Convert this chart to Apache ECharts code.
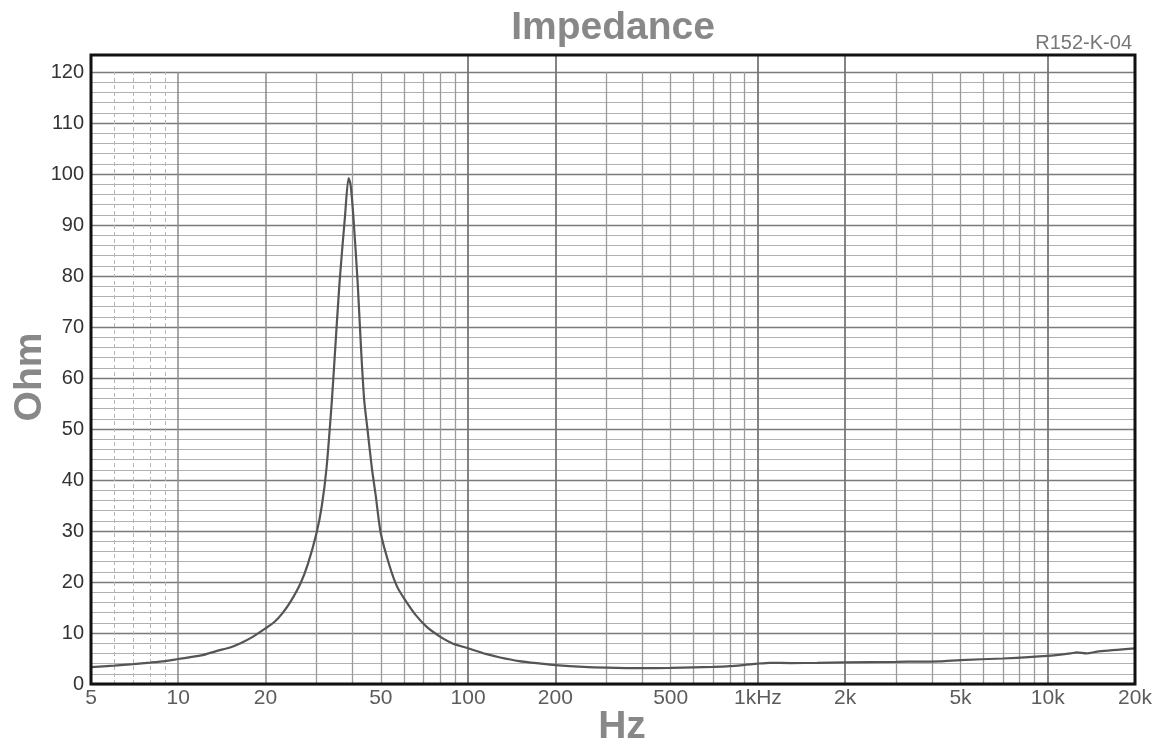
<!DOCTYPE html>
<html>
<head>
<meta charset="utf-8">
<script src="https://cdn.jsdelivr.net/npm/echarts@6/dist/echarts.min.js"></script>
<style>
html,body{margin:0;padding:0;background:#fff;}
#chart{width:1165px;height:752px;}
</style>
</head>
<body>
<div id="chart"></div>
<script>
// Frequency (Hz) and impedance (Ohm)
var freqHz = [5,6,7,8,9,10,12,13.6,15,16.4,18,20,21.5,22.9,24.5,26.4,28,30,31.3,32.5,33.9,34.6,36,37.6,38.7,39.3,40.2,41.6,42.7,43.8,45,46.5,48,50,53.7,57,60.6,66,72,80,88,96,100,115,129,150,178,200,250,300,392,500,600,700,800,900,1000,1100,1300,1600,2000,3000,4240,5000,7000,10000,12000,12600,13600,15000,20000];
var ohm    = [3.3,3.6,3.9,4.2,4.5,4.9,5.6,6.5,7.1,8.0,9.2,10.9,12.2,13.9,16.3,19.7,23.5,29.6,35,42.5,55.7,63.5,78.6,91.6,99.2,98,91.6,78.6,66,55.7,49.8,42.6,37,29.5,23,19,16.5,13.5,11.2,9.3,8,7.3,7.0,5.9,5.2,4.5,4.0,3.7,3.35,3.2,3.1,3.15,3.25,3.35,3.5,3.75,4.0,4.15,4.1,4.15,4.25,4.35,4.45,4.7,5.0,5.5,6.0,6.2,6.0,6.4,7.0];

// Axis ticks / labels
var xTickValues = [5,10,20,50,100,200,500,1000,2000,5000,10000,20000];
var xTickLabels = ['5','10','20','50','100','200','500','1kHz','2k','5k','10k','20k'];
var dashedGridHz = [6,7,8,9];
var minorGridHz = [30,40,50,60,70,80,90,300,400,500,600,700,800,900,3000,4000,5000,6000,7000,8000,9000];
var majorGridHz = [10,20];
var fullGridHz = [100,200,1000,2000,10000];

var chart = echarts.init(document.getElementById('chart'), null, {renderer:'canvas'});

var vLines = [];
dashedGridHz.forEach(function(f){ vLines.push({xAxis:f, lineStyle:{color:'#b5b5b5', width:1, type:[4,3]}}); });
minorGridHz.forEach(function(f){ vLines.push({xAxis:f, lineStyle:{color:'#9a9a9a', width:1.3, type:'solid'}}); });
majorGridHz.forEach(function(f){ vLines.push({xAxis:f, lineStyle:{color:'#8a8a8a', width:1.5, type:'solid'}}); });

var fullLines = fullGridHz.map(function(f){ return {xAxis:f, lineStyle:{color:'#777', width:1.8, type:'solid'}}; });

var fontFam = 'Liberation Sans, Arial, sans-serif';

var option = {
  animation:false,
  backgroundColor:'#fff',
  grid:[
    {left:91, right:30, top:72, bottom:68, show:false},
    {left:91, right:30, top:55, bottom:68, show:true, borderColor:'#111', borderWidth:3, backgroundColor:'transparent', z:10}
  ],
  xAxis:[
    {type:'log', logBase:10, min:5, max:20000, gridIndex:0,
     axisLine:{show:false}, axisTick:{show:false}, axisLabel:{show:false}, splitLine:{show:false}},
    {type:'log', logBase:10, min:5, max:20000, gridIndex:1,
     axisLine:{show:false}, axisTick:{show:false}, axisLabel:{show:false}, splitLine:{show:false}}
  ],
  yAxis:[
    {type:'value', min:0, max:120, interval:10, gridIndex:0,
     axisLine:{show:false}, axisTick:{show:false},
     axisLabel:{show:true, margin:7, fontFamily:fontFam, fontSize:20, color:'#333'},
     splitLine:{show:true, lineStyle:{color:'#7a7a7a', width:1.4}},
     minorTick:{show:false, splitNumber:5},
     minorSplitLine:{show:true, lineStyle:{color:'#b0b0b0', width:1.2}}},
    {type:'value', min:0, max:1, gridIndex:1, show:false, splitLine:{show:false}}
  ],
  graphic:[
    {type:'text', x:613, y:28, style:{text:'Impedance', align:'center', verticalAlign:'middle', fontFamily:fontFam, fontWeight:'bold', fontSize:39, fill:'#888'}},
    {type:'text', x:1132, y:43, style:{text:'R152-K-04', align:'right', verticalAlign:'middle', fontFamily:fontFam, fontSize:20, fill:'#777'}},
    {type:'text', x:30, y:377, rotation:Math.PI/2, style:{text:'Ohm', align:'center', verticalAlign:'middle', fontFamily:fontFam, fontWeight:'bold', fontSize:39, fill:'#888'}},
    {type:'text', x:622, y:727, style:{text:'Hz', align:'center', verticalAlign:'middle', fontFamily:fontFam, fontWeight:'bold', fontSize:39, fill:'#888'}}
  ],
  series:[
    {
      name:'grid-v', type:'line', xAxisIndex:0, yAxisIndex:0, data:[], silent:true,
      markLine:{silent:true, symbol:['none','none'], label:{show:false}, animation:false, data:vLines}
    },
    {
      name:'grid-full', type:'line', xAxisIndex:1, yAxisIndex:1, data:[], silent:true,
      markLine:{silent:true, symbol:['none','none'], label:{show:false}, animation:false, data:fullLines}
    },
    {
      name:'Impedance', type:'line', xAxisIndex:0, yAxisIndex:0, z:5,
      data:freqHz.map(function(f,i){return [f, ohm[i]];}),
      showSymbol:false, smooth:0.25,
      lineStyle:{color:'#555', width:2.2}
    },
    {
      name:'xlabels', type:'scatter', xAxisIndex:0, yAxisIndex:0, clip:false, silent:true,
      symbolSize:0,
      data:xTickValues.map(function(f,i){return {value:[f,0], name:xTickLabels[i]};}),
      label:{show:true, position:'bottom', distance:4,
        formatter:function(p){return p.name;},
        fontFamily:fontFam, fontSize:21, color:'#333'}
    }
  ]
};
chart.setOption(option);
</script>
</body>
</html>
